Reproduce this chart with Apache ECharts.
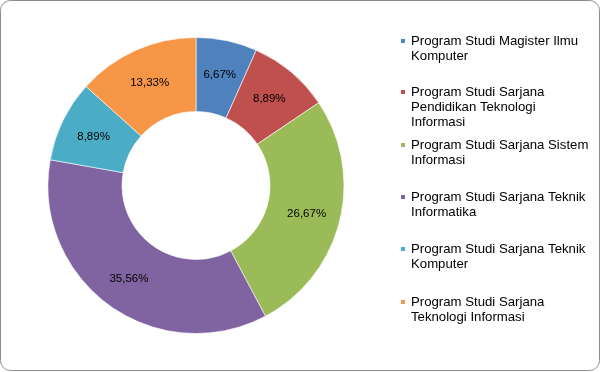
<!DOCTYPE html>
<html>
<head>
<meta charset="utf-8">
<script src="https://cdn.jsdelivr.net/npm/echarts@6/dist/echarts.min.js"></script>
<style>html,body{margin:0;padding:0;background:#fff}#c{width:601px;height:372px}</style>
</head>
<body>
<div id="c"></div>
<script>
const categories = [
  'Program Studi Magister Ilmu Komputer',
  'Program Studi Sarjana Pendidikan Teknologi Informasi',
  'Program Studi Sarjana Sistem Informasi',
  'Program Studi Sarjana Teknik Informatika',
  'Program Studi Sarjana Teknik Komputer',
  'Program Studi Sarjana Teknologi Informasi'
];
const legendLabels = [
  'Program Studi Magister Ilmu\nKomputer',
  'Program Studi Sarjana\nPendidikan Teknologi\nInformasi',
  'Program Studi Sarjana Sistem\nInformasi',
  'Program Studi Sarjana Teknik\nInformatika',
  'Program Studi Sarjana Teknik\nKomputer',
  'Program Studi Sarjana\nTeknologi Informasi'
];
const values = [6.67, 8.89, 26.67, 35.56, 8.89, 13.33];
const colors = ['#4F81BD', '#C0504D', '#9BBB59', '#8064A2', '#4BACC6', '#F79646'];

const firstLineCenters = [41, 92, 145, 197, 249, 302];
const LH = 15;
const legends = categories.map((name, i) => {
  const lines = legendLabels[i].split('\n');
  const n = lines.length;
  // blank lines above so the first real line sits level with the icon
  const txt = '\n'.repeat(n - 1) + legendLabels[i];
  const H = (2 * n - 1) * LH;
  return {
    data: [name],
    orient: 'vertical',
    left: 399,
    top: firstLineCenters[i] - H / 2,
    padding: 0,
    itemWidth: 6,
    itemHeight: 6,
    icon: 'rect',
    selectedMode: false,
    formatter: () => txt,
    textStyle: {
      fontFamily: 'Liberation Sans',
      fontSize: 13.2,
      color: '#000',
      lineHeight: LH
    }
  };
});

const chart = echarts.init(document.getElementById('c'), null, {renderer: 'canvas'});
chart.setOption({
  animation: false,
  color: colors,
  legend: legends,
  graphic: [{
    type: 'rect',
    shape: {x: 0.5, y: 0.5, width: 599, height: 370, r: 10},
    style: {fill: 'none', stroke: '#8c8c8c', lineWidth: 1},
    silent: true,
    z: 100
  }],
  series: [{
    type: 'pie',
    center: [196, 185.5],
    radius: [74, 148],
    startAngle: 90,
    clockwise: true,
    avoidLabelOverlap: false,
    itemStyle: {borderColor: '#ffffff', borderWidth: 0.6},
    label: {
      position: 'inside',
      fontFamily: 'Liberation Sans',
      fontSize: 11.5,
      color: '#000',
      offset: [0, 1],
      formatter: p => p.value.toFixed(2).replace('.', ',') + '%'
    },
    labelLine: {show: false},
    emphasis: {disabled: true},
    data: categories.map((n, i) => ({name: n, value: values[i]}))
  }]
});
</script>
</body>
</html>
